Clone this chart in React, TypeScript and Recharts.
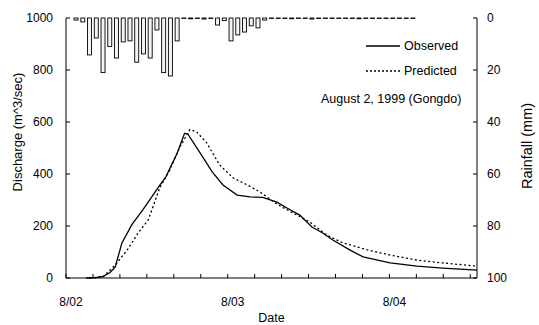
import {
  ComposedChart,
  Line,
  Bar,
  XAxis,
  YAxis,
} from "recharts";

// hours after 8/02 00:00
const OBS_HOURS = [3.0, 4.5, 5.5, 6.5, 7.3, 8.3, 9.8, 11.4, 13.9, 14.8, 16.5, 17.6, 18.1, 19.9, 21.7, 23.3, 25.4, 27.3, 29.2, 31.3, 32.8, 34.7, 36.5, 38.1, 39.6, 42.1, 44.1, 48.1, 52.1, 55.9, 60.4, 61];
const OBS_FLOW = [0, 2, 6, 20, 42, 135, 206, 262, 356, 388, 480, 557, 553, 481, 408, 358, 319, 312, 310, 292, 269, 242, 196, 173, 146, 108, 81, 58, 46, 38, 31, 30];

const PRED_HOURS = [3.5, 5.5, 7.3, 9.1, 10.7, 12.2, 13.9, 15.4, 16.9, 18.4, 19.4, 20.9, 22.8, 24.8, 26.9, 28.8, 31.3, 33.7, 36.2, 38.7, 41.1, 44.7, 48.1, 52.1, 55.9, 60.4, 61];
const PRED_FLOW = [0, 4, 50, 108, 173, 223, 346, 415, 504, 571, 562, 519, 435, 385, 358, 331, 284, 250, 215, 165, 135, 108, 88, 69, 58, 47, 46];

// hourly rainfall (mm), first bar centred at 1.5 h
const RAIN_MM = [
  0.8, 1.5, 14.2, 7.7, 21, 11, 15.4, 9.2, 8.8, 17, 13.8, 15.4, 4.6, 21, 22.3, 8.8,
  0.2, 0.3, 0.2, 0.4, 0.2, 2.7, 1, 8.8, 6.5, 5.4, 3, 3.8, 0.8,
  0.2, 0.2, 0.2, 0.3, 0.2, 0.2, 0.4, 0.2, 0.2, 0.2, 0.2, 0.2, 0.2, 0.3, 0.2, 0.2, 0.2, 0.2, 0.2, 0.2, 0.2, 0.2,
];

const X_TICKS = [0, 4, 8, 12, 16, 20, 24, 28, 32, 36, 40, 44, 48, 52, 56, 60];
const X_LABELS: Record<number, string> = { 0: "8/02", 24: "8/03", 48: "8/04" };
const FLOW_TICKS = [0, 200, 400, 600, 800, 1000];
const RAIN_TICKS = [0, 20, 40, 60, 80, 100];

type Row = { h: number; obs?: number; pred?: number; rain?: number };

function buildRows(): Row[] {
  const map = new Map<number, Row>();
  const get = (h: number) => {
    if (!map.has(h)) map.set(h, { h });
    return map.get(h)!;
  };
  OBS_HOURS.forEach((h, i) => (get(h).obs = OBS_FLOW[i]));
  PRED_HOURS.forEach((h, i) => (get(h).pred = PRED_FLOW[i]));
  RAIN_MM.forEach((v, i) => (get(i + 1.5).rain = v));
  return [...map.values()].sort((a, b) => a.h - b.h);
}

const data = buildRows();
const FONT = "'Liberation Sans', Arial, sans-serif";
const tickStyle = { fill: "#000", fontSize: 12, fontFamily: FONT };

// band width from the numeric axis collapses to ~1px, so widen each bar around its centre
function RainBar(p: any) {
  if (p.x == null || p.y == null) return null;
  const cx = p.x + p.width / 2;
  const top = Math.min(p.y, p.y + p.height);
  const h = Math.max(Math.abs(p.height), 0.5);
  return (
    <rect x={cx - 2} y={top} width={4} height={h} fill="#f4f4f4" stroke="#000" strokeWidth={0.9} />
  );
}

// legend + caption drawn over the plot, top right
function LegendBox() {
  const row = { display: "flex", alignItems: "center", height: 25 };
  return (
    <div
      style={{
        position: "absolute",
        left: 366,
        top: 33,
        fontFamily: FONT,
        fontSize: 12.5,
        color: "#000",
        lineHeight: "14px",
      }}
    >
      <div style={row}>
        <svg width={36} height={6}>
          <line x1={0} y1={3} x2={34} y2={3} stroke="#000" strokeWidth={1.3} />
        </svg>
        <span style={{ marginLeft: 2 }}>Observed</span>
      </div>
      <div style={row}>
        <svg width={36} height={6}>
          <line x1={0} y1={3} x2={34} y2={3} stroke="#000" strokeWidth={1.3} strokeDasharray="2 2" />
        </svg>
        <span style={{ marginLeft: 2 }}>Predicted</span>
      </div>
      <div style={{ marginTop: 9, marginLeft: -45, whiteSpace: "nowrap" }}>August 2, 1999 (Gongdo)</div>
    </div>
  );
}

export default function App() {
  return (
    <div style={{ position: "absolute", left: 0, top: 0, width: 539, height: 325, background: "#fff" }}>
      <ComposedChart
        width={539}
        height={325}
        data={data}
        margin={{ top: 18, right: 0, bottom: 0, left: 0 }}
        style={{ fontFamily: FONT }}
      >
        <XAxis
          dataKey="h"
          type="number"
          domain={[0, 61]}
          ticks={X_TICKS}
          tickFormatter={(v) => X_LABELS[v] ?? ""}
          interval={0}
          height={47}
          tick={{ ...tickStyle, dx: 5 }}
          tickSize={-4}
          tickMargin={23}
          stroke="#000"
          label={{ value: "Date", position: "insideBottom", offset: 3, fill: "#000", fontSize: 12.5 }}
        />
        <YAxis
          yAxisId="flow"
          domain={[0, 1000]}
          ticks={FLOW_TICKS}
          width={66}
          tick={tickStyle}
          tickSize={-4}
          tickMargin={17}
          stroke="#000"
          label={() => (
            <text transform="translate(22,132) rotate(-90)" textAnchor="middle" fontSize={13} fill="#000">
              Discharge (m^3/sec)
            </text>
          )}
        />
        <YAxis
          yAxisId="rain"
          orientation="right"
          reversed
          domain={[0, 100]}
          ticks={RAIN_TICKS}
          width={62}
          tick={tickStyle}
          tickSize={-4}
          tickMargin={14}
          stroke="#000"
          label={() => (
            <text transform="translate(532,146) rotate(-90)" textAnchor="middle" fontSize={14.5} fill="#000">
              Rainfall (mm)
            </text>
          )}
        />
        <Bar
          yAxisId="rain"
          dataKey="rain"
          barSize={4}
          shape={<RainBar />}
          isAnimationActive={false}
        />
        <Line
          yAxisId="flow"
          dataKey="obs"
          type="linear"
          stroke="#000"
          strokeWidth={1.3}
          dot={false}
          connectNulls
          isAnimationActive={false}
        />
        <Line
          yAxisId="flow"
          dataKey="pred"
          type="linear"
          stroke="#000"
          strokeWidth={1.3}
          strokeDasharray="2 2.5"
          dot={false}
          connectNulls
          isAnimationActive={false}
        />
      </ComposedChart>
      <LegendBox />
    </div>
  );
}
